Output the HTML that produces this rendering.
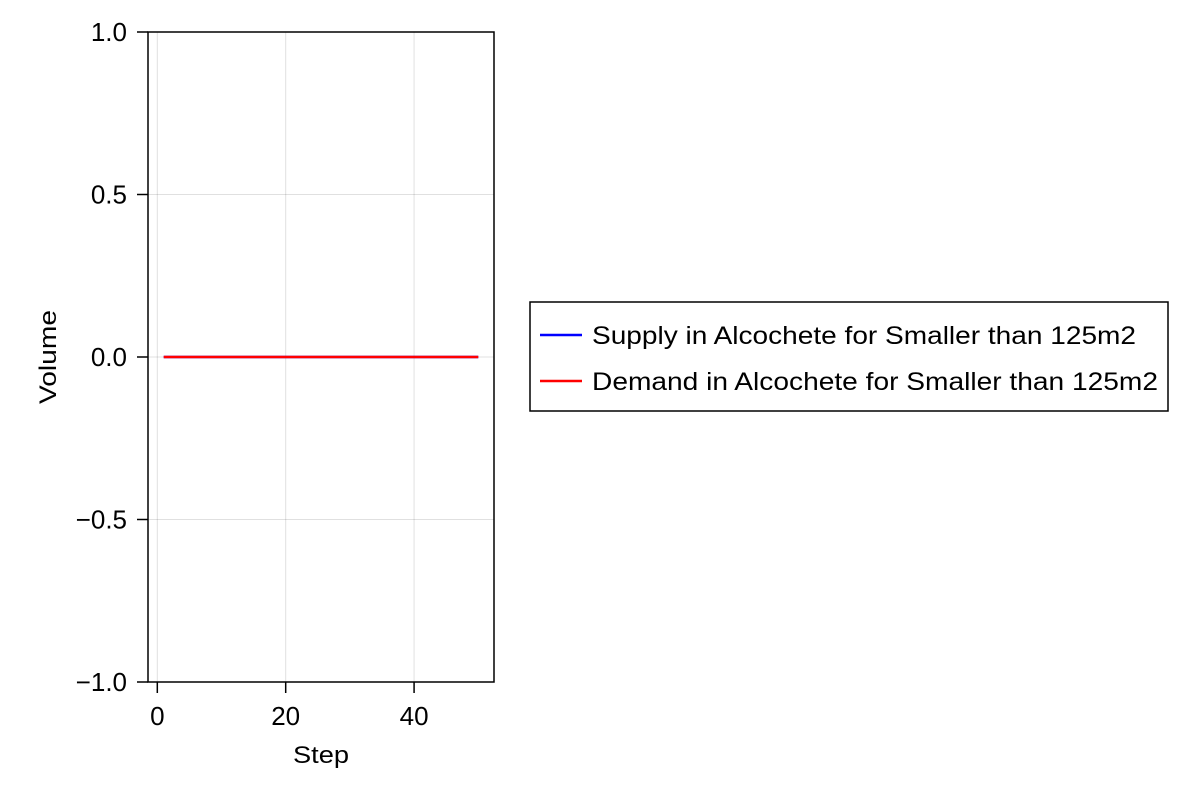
<!DOCTYPE html>
<html><head><meta charset="utf-8"><style>
body{margin:0;background:#fff;}
svg{display:block;font-family:"Liberation Sans",sans-serif;}
</style></head><body>
<svg id="chart" width="1200" height="800">
<g id="grid"></g>
<g id="series"></g>
<rect x="148" y="32" width="346" height="650" fill="none" stroke="#000" stroke-width="1.5"/>
<g id="ticks"></g>
<text x="321" y="763" font-size="24" text-anchor="middle" textLength="56" lengthAdjust="spacingAndGlyphs">Step</text>
<text transform="translate(56,357) rotate(-90)" font-size="24" text-anchor="middle" textLength="94" lengthAdjust="spacingAndGlyphs">Volume</text>
<g>
<rect x="530" y="302" width="638" height="109" fill="#fff" stroke="#000" stroke-width="1.5"/>
<line x1="540" y1="335" x2="582" y2="335" stroke="#0000ff" stroke-width="2.5"/>
<text x="592" y="344" font-size="25" textLength="544" lengthAdjust="spacingAndGlyphs">Supply in Alcochete for Smaller than 125m2</text>
<line x1="540" y1="381" x2="582" y2="381" stroke="#ff0000" stroke-width="2.5"/>
<text x="592" y="390" font-size="25" textLength="566" lengthAdjust="spacingAndGlyphs">Demand in Alcochete for Smaller than 125m2</text>
</g>
</svg>
<script>
const steps = Array.from({length:50},(_,i)=>i+1);
const supply = [0,0,0,0,0,0,0,0,0,0,0,0,0,0,0,0,0,0,0,0,0,0,0,0,0,0,0,0,0,0,0,0,0,0,0,0,0,0,0,0,0,0,0,0,0,0,0,0,0,0];
const demand = [0,0,0,0,0,0,0,0,0,0,0,0,0,0,0,0,0,0,0,0,0,0,0,0,0,0,0,0,0,0,0,0,0,0,0,0,0,0,0,0,0,0,0,0,0,0,0,0,0,0];
const xTicks = [0,20,40];
const yTicks = [1.0,0.5,0.0,-0.5,-1.0];
const yTickLabels = ["1.0","0.5","0.0","\u22120.5","\u22121.0"];
const X0=148,X1=494,Y0=32,Y1=682,XMIN=-1.45,XMAX=52.45,YMIN=-1,YMAX=1;
const sx=v=>X0+(v-XMIN)/(XMAX-XMIN)*(X1-X0);
const sy=v=>Y1-(v-YMIN)/(YMAX-YMIN)*(Y1-Y0);
const NS="http://www.w3.org/2000/svg";
const grid=document.getElementById('grid'),ticks=document.getElementById('ticks'),series=document.getElementById('series');
function mk(t,a,p){const e=document.createElementNS(NS,t);for(const k in a)e.setAttribute(k,a[k]);p.appendChild(e);return e;}
xTicks.forEach(v=>{
 const g=mk('line',{x1:sx(v),x2:sx(v),y1:Y0,y2:Y1,stroke:'#000','stroke-opacity':0.12,'stroke-width':1},grid);
 
 
 const t=mk('line',{x1:sx(v),x2:sx(v),y1:Y1,y2:Y1+11,stroke:'#000','stroke-width':1.5},ticks);
 
 
 const l=mk('text',{x:sx(v),y:Y1+43,'font-size':26,'text-anchor':'middle'},ticks);l.textContent=v;
 
 
});
yTicks.forEach((v,i)=>{
 const g=mk('line',{x1:X0,x2:X1,y1:sy(v),y2:sy(v),stroke:'#000','stroke-opacity':0.12,'stroke-width':1},grid);
 
 
 const t=mk('line',{x1:X0-11,x2:X0,y1:sy(v),y2:sy(v),stroke:'#000','stroke-width':1.5},ticks);
 
 
 const l=mk('text',{x:X0-21,y:sy(v)+9,'font-size':26,'text-anchor':'end'},ticks);l.textContent=yTickLabels[i];
 
 
});
function line(vals,color,name){
 const p=mk('polyline',{points:steps.map((s,i)=>sx(s)+','+sy(vals[i])).join(' '),fill:'none',stroke:color,'stroke-width':2.5},series);
 
 
}
line(supply,'#0000ff','supply-line');
line(demand,'#ff0000','demand-line');
</script>
</body></html>
